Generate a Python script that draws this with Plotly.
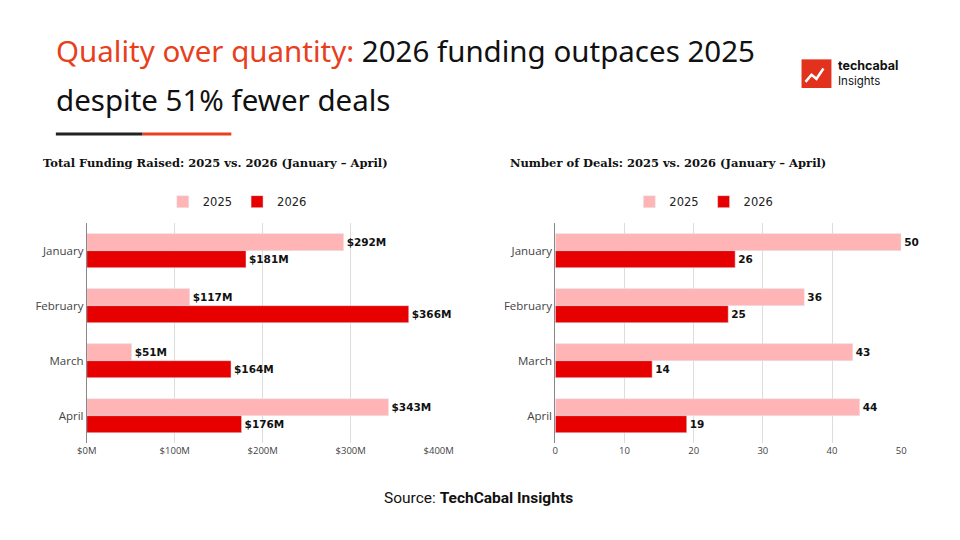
import plotly.graph_objects as go

months = ["January", "February", "March", "April"]
funding_2025 = [292, 117, 51, 343]
funding_2026 = [181, 366, 164, 176]
deals_2025 = [50, 36, 43, 44]
deals_2026 = [26, 25, 14, 19]
funding_ticks = [0, 100, 200, 300, 400]
funding_tick_labels = ["$0M", "$100M", "$200M", "$300M", "$400M"]

c25 = "#ffb5b5"
c26 = "#e60000"
K = 0.977  # the page comes out slightly shrunk, so place things in reference pixels


def px(x):
    return (x - 10) / K / 960


def py(y):
    return 1 - (y / K) / 540


lbl_font = dict(family="DejaVu Sans", size=10.5, color="#111111")

fig = go.Figure()

fig.add_trace(go.Bar(y=months, x=funding_2025, orientation="h", name="2025",
                     marker_color=c25, text=["<b>$%dM</b>" % v for v in funding_2025],
                     textposition="outside", textfont=lbl_font, cliponaxis=False,
                     xaxis="x", yaxis="y", legend="legend"))
fig.add_trace(go.Bar(y=months, x=funding_2026, orientation="h", name="2026",
                     marker_color=c26, text=["<b>$%dM</b>" % v for v in funding_2026],
                     textposition="outside", textfont=lbl_font, cliponaxis=False,
                     xaxis="x", yaxis="y", legend="legend"))
fig.add_trace(go.Bar(y=months, x=deals_2025, orientation="h", name="2025",
                     marker_color=c25, text=["<b>%d</b>" % v for v in deals_2025],
                     textposition="outside", textfont=lbl_font, cliponaxis=False,
                     xaxis="x2", yaxis="y2", legend="legend2"))
fig.add_trace(go.Bar(y=months, x=deals_2026, orientation="h", name="2026",
                     marker_color=c26, text=["<b>%d</b>" % v for v in deals_2026],
                     textposition="outside", textfont=lbl_font, cliponaxis=False,
                     xaxis="x2", yaxis="y2", legend="legend2"))

axfont = dict(family="Open Sans", size=11.5, color="#444444")
tkfont = dict(family="Open Sans", size=9.5, color="#444444")
legfont = dict(family="DejaVu Sans", size=11.5, color="#222222")
fig.update_layout(
    width=960, height=540, margin=dict(l=0, r=0, t=0, b=0),
    paper_bgcolor="white", plot_bgcolor="white",
    barmode="group", bargap=0.38, bargroupgap=0.0, showlegend=True,
    xaxis=dict(domain=[px(87), px(440)], range=[0, 400], tickvals=funding_ticks,
               ticktext=funding_tick_labels, showgrid=True, gridcolor="#dddddd",
               zeroline=False, tickfont=tkfont, ticks=""),
    yaxis=dict(domain=[py(433), py(218)], categoryorder="array", categoryarray=months,
               autorange="reversed", showline=True, linecolor="#888", tickfont=axfont,
               ticks="", anchor="x"),
    xaxis2=dict(domain=[px(557), px(904)], range=[0, 50], dtick=10, showgrid=True,
                gridcolor="#dddddd", zeroline=False, tickfont=tkfont, anchor="y2"),
    yaxis2=dict(domain=[py(433), py(218)], categoryorder="array", categoryarray=months,
                autorange="reversed", showline=True, linecolor="#888", tickfont=axfont,
                ticks="", anchor="x2"),
    legend=dict(orientation="h", x=px(238), xanchor="center", y=py(197), yanchor="middle",
                font=legfont, itemwidth=30),
    legend2=dict(orientation="h", x=px(706), xanchor="center", y=py(197), yanchor="middle",
                 font=legfont, itemwidth=30),
)

fig.add_annotation(x=px(54), y=py(49), xref="paper", yref="paper", xanchor="left",
                   yanchor="middle", showarrow=False, align="left",
                   text="<span style='color:#e8401c'>Quality over quantity:</span> 2026 funding outpaces 2025",
                   font=dict(family="Noto Sans", size=29.5, color="#111111"))
fig.add_annotation(x=px(54), y=py(97), xref="paper", yref="paper", xanchor="left",
                   yanchor="middle", showarrow=False, text="despite 51% fewer deals",
                   font=dict(family="Noto Sans", size=29.5, color="#111111"))
fig.add_shape(type="line", xref="paper", yref="paper", x0=px(56), x1=px(143),
              y0=py(131), y1=py(131), line=dict(color="#222222", width=3))
fig.add_shape(type="line", xref="paper", yref="paper", x0=px(143), x1=px(232),
              y0=py(131), y1=py(131), line=dict(color="#e8401c", width=3))

for xx, t in [(41, "Total Funding Raised: 2025 vs. 2026 (January – April)"),
              (510, "Number of Deals: 2025 vs. 2026 (January – April)")]:
    fig.add_annotation(x=px(xx), y=py(159), xref="paper", yref="paper", xanchor="left",
                       yanchor="middle", showarrow=False, text="<b>%s</b>" % t,
                       font=dict(family="DejaVu Serif", size=11.5, color="#111"))

fig.add_annotation(x=px(480), y=py(497), xref="paper", yref="paper", showarrow=False,
                   text="Source: <b>TechCabal Insights</b>",
                   font=dict(family="Roboto", size=15.5, color="#111"))

# logo
fig.add_shape(type="rect", xref="paper", yref="paper", x0=px(804), x1=px(834),
              y0=py(86), y1=py(58), fillcolor="#e2311d", line=dict(width=0))
fig.add_shape(type="path", xref="paper", yref="paper",
              path="M %f,%f L %f,%f L %f,%f L %f,%f" % (px(808), py(80), px(814), py(73),
                                                       px(819), py(77), px(826), py(67)),
              line=dict(color="white", width=2.5))
fig.add_annotation(x=px(839), y=py(64), xref="paper", yref="paper", xanchor="left",
                   yanchor="middle", showarrow=False, text="<b>techcabal</b>",
                   font=dict(family="Inter", size=12.5, color="#111"))
fig.add_annotation(x=px(839), y=py(79), xref="paper", yref="paper", xanchor="left",
                   yanchor="middle", showarrow=False, text="Insights",
                   font=dict(family="Inter", size=11.5, color="#111"))

fig.write_html("out.html", config={"displayModeBar": False},
               post_script="document.body.style.margin='0';"
                           "document.body.style.overflow='hidden';"
                           "document.documentElement.style.overflow='hidden';")
